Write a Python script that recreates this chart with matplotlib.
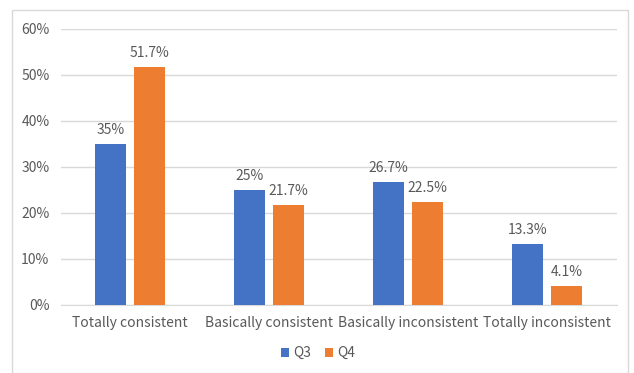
import numpy as np
import matplotlib.pyplot as plt
from matplotlib.patches import Rectangle

plt.rcParams['font.family'] = ['Noto Sans CJK SC', 'DejaVu Sans']

categories = ['Totally consistent', 'Basically consistent', 'Basically inconsistent', 'Totally inconsistent']
q3 = [35, 25, 26.7, 13.3]
q4 = [51.7, 21.7, 22.5, 4.1]
q3_labels = ['35%', '25%', '26.7%', '13.3%']
q4_labels = ['51.7%', '21.7%', '22.5%', '4.1%']

blue = '#4472C4'
orange = '#ED7D31'
grey = '#595959'

fig = plt.figure(figsize=(6.34, 3.73), dpi=100)
# chart-area frame
fig.patches.append(Rectangle((12/634, 0), 616/634, 1 - 10/373, transform=fig.transFigure,
                             fill=False, edgecolor='#D9D9D9', linewidth=1))
ax = fig.add_axes([60.5/634, 68/373, 556/634, 276/373])

x = np.arange(len(categories))
w = 0.223
off = 0.14
b1 = ax.bar(x - off, q3, w, color=blue, label='Q3', zorder=3)
b2 = ax.bar(x + off, q4, w, color=orange, label='Q4', zorder=3)

for bars, labs in ((b1, q3_labels), (b2, q4_labels)):
    for b, t in zip(bars, labs):
        ax.annotate(t, (b.get_x() + b.get_width()/2, b.get_height()), xytext=(0, 5),
                    textcoords='offset points', ha='center', va='bottom', fontsize=10, color=grey)

ax.set_xlim(-0.5, 3.5)
ax.set_ylim(0, 60)
ax.set_yticks(range(0, 61, 10))
ax.set_yticklabels([f'{v}%' for v in range(0, 61, 10)])
ax.set_xticks(x)
ax.set_xticklabels(categories)
ax.tick_params(axis='both', length=0, labelsize=10, labelcolor=grey)
ax.tick_params(axis='y', pad=8)
ax.tick_params(axis='x', pad=8)
ax.grid(axis='y', color='#D9D9D9', linewidth=1, zorder=0)
for s in ('top', 'right', 'left'):
    ax.spines[s].set_visible(False)
ax.spines['bottom'].set_color('#D9D9D9')

ax.legend(loc='center', bbox_to_anchor=(318/634, 20/373), bbox_transform=fig.transFigure,
          ncol=2, frameon=False, fontsize=10, labelcolor=grey, handlelength=0.6,
          handleheight=0.6, handletextpad=0.3, columnspacing=1.0)

fig.savefig('out.png', dpi=100)
